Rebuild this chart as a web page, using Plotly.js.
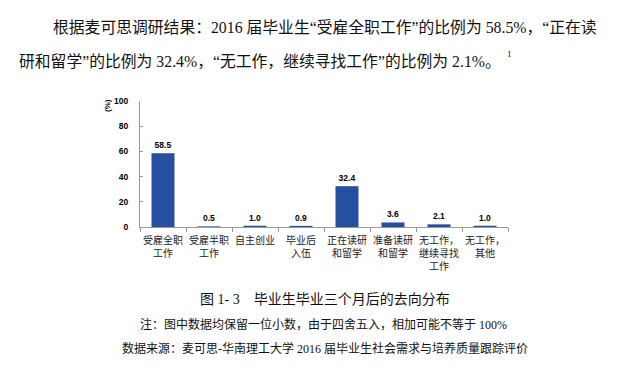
<!DOCTYPE html>
<html>
<head>
<meta charset="utf-8">
<script src="https://cdn.plot.ly/plotly-3.0.1.min.js"></script>
<style>
html,body{margin:0;padding:0;background:#fff;}
#chart{width:624px;height:371px;}
</style>
</head>
<body>
<div id="chart"></div>
<script>
// Data
const categories = [
  "受雇全职<br>工作",
  "受雇半职<br>工作",
  "自主创业",
  "毕业后<br>入伍",
  "正在读研<br>和留学",
  "准备读研<br>和留学",
  "无工作，<br>继续寻找<br>工作",
  "无工作，<br>其他"
];
const values = [58.5, 0.5, 1.0, 0.9, 32.4, 3.6, 2.1, 1.0];
const yTicks = [0, 20, 40, 60, 80, 100];

const paraLine1 = "根据麦可思调研结果：2016 届毕业生“受雇全职工作”的比例为 58.5%，“正在读";
const paraLine2 = "研和留学”的比例为 32.4%，“无工作，继续寻找工作”的比例为 2.1%。";
const footnoteMark = "1";
const caption = "图 1- 3\u00A0\u00A0\u00A0\u00A0毕业生毕业三个月后的去向分布";
const note = "注：图中数据均保留一位小数，由于四舍五入，相加可能不等于 100%";
const source = "数据来源：麦可思-华南理工大学 2016 届毕业生社会需求与培养质量跟踪评价";

// layout geometry (pixels)
const L = 140, R = 508, T = 101, B = 227;
const W = 624, H = 371;
const px = x => (x - L) / (R - L);
const py = y => (B - y) / (B - T);

const serif = "Liberation Serif, 'Noto Sans CJK SC', serif";
const cjk = "'Noto Sans CJK SC', sans-serif";
const num = "Liberation Sans, Arial, sans-serif";

const trace = {
  type: "bar",
  x: categories,
  y: values,
  width: 0.5,
  marker: {color: "#2550A0"},
  text: values.map(v => "<b>" + v.toFixed(1) + "</b>"),
  textposition: "outside",
  textfont: {family: num, size: 8.5, color: "#000"},
  cliponaxis: false,
  hoverinfo: "none"
};

const annotations = [
  {text: paraLine1, x: px(52), y: py(27), xanchor: "left", yanchor: "middle", font: {family: serif, size: 15.8, color: "#111"}},
  {text: paraLine2, x: px(18), y: py(61), xanchor: "left", yanchor: "middle", font: {family: serif, size: 15.8, color: "#111"}},
  {text: footnoteMark, x: px(506), y: py(54), xanchor: "left", yanchor: "middle", font: {family: serif, size: 9, color: "#111"}},
  {text: caption, x: px(199), y: py(299), xanchor: "left", yanchor: "middle", font: {family: serif, size: 14, color: "#111"}},
  {text: note, x: px(139), y: py(324), xanchor: "left", yanchor: "middle", font: {family: serif, size: 12, color: "#111"}},
  {text: source, x: px(121), y: py(348), xanchor: "left", yanchor: "middle", font: {family: serif, size: 12, color: "#111"}},
  {text: "<b>(%)</b>", textangle: -90, x: px(107), y: py(106), xanchor: "center", yanchor: "middle", font: {family: num, size: 8, color: "#000"}}
].map(a => Object.assign({xref: "paper", yref: "paper", showarrow: false, borderpad: 0}, a));

const layout = {
  width: W, height: H,
  margin: {l: L, r: W - R, t: T, b: H - B, pad: 0},
  paper_bgcolor: "#fff",
  plot_bgcolor: "#fff",
  showlegend: false,
  xaxis: {
    type: "category",
    tickson: "boundaries",
    tickangle: 0,
    ticks: "outside", ticklen: 4, tickcolor: "#999", tickwidth: 1,
    showline: true, linecolor: "#999", linewidth: 1,
    showgrid: false, zeroline: false,
    tickfont: {family: cjk, size: 10, color: "#222"},
    ticklabelstandoff: 4,
    fixedrange: true
  },
  yaxis: {
    range: [0, 100],
    tickmode: "array",
    tickvals: yTicks,
    ticktext: yTicks.map(v => "<b>" + v + "</b>"),
    tickfont: {family: num, size: 8.5, color: "#000"},
    showline: true, linecolor: "#999", linewidth: 1,
    ticks: "inside", ticklen: 3, tickcolor: "#999",
    ticklabelstandoff: 9,
    showgrid: false, zeroline: false,
    fixedrange: true
  },
  annotations: annotations
};

Plotly.newPlot("chart", [trace], layout, {displayModeBar: false, staticPlot: true});
</script>
</body>
</html>
